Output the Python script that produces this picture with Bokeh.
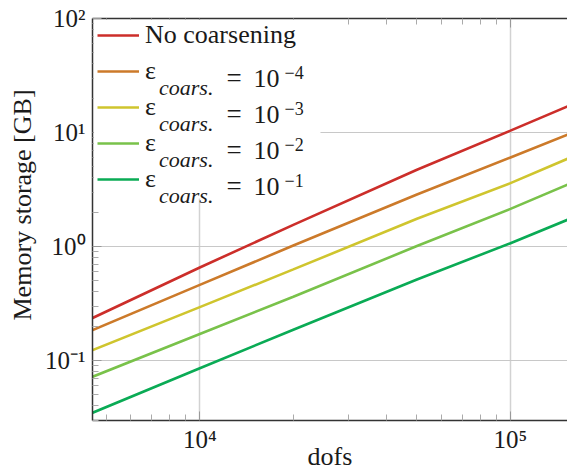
from bokeh.plotting import figure
from bokeh.models import (Range1d, LogAxis, FixedTicker, CustomJSTickFormatter, Legend, LegendItem,
                          Label, BoxAnnotation, Title, ColumnDataSource)
from bokeh.embed import file_html
from bokeh.resources import INLINE

# ---------------- data ----------------
dofs = [4500, 10000, 20000, 50000, 100000, 153000]
no_coarsening = [0.235, 0.655, 1.55, 4.71, 10.4, 17.0]
eps_1e_4 = [0.184, 0.461, 1.02, 2.86, 6.04, 9.6]
eps_1e_3 = [0.123, 0.294, 0.63, 1.75, 3.6, 5.9]
eps_1e_2 = [0.0718, 0.171, 0.363, 1.01, 2.14, 3.5]
eps_1e_1 = [0.0347, 0.0857, 0.186, 0.514, 1.07, 1.72]

x_major = [1e4, 1e5]
x_minor = [5000, 6000, 7000, 8000, 9000, 20000, 30000, 40000, 50000, 60000, 70000, 80000, 90000]
y_major = [0.1, 1, 10, 100]
y_minor = [0.03, 0.04, 0.05, 0.06, 0.07, 0.08, 0.09, 0.2, 0.3, 0.4, 0.5, 0.6, 0.7, 0.8, 0.9,
           2, 3, 4, 5, 6, 7, 8, 9, 20, 30, 40, 50, 60, 70, 80, 90]

series = [no_coarsening, eps_1e_4, eps_1e_3, eps_1e_2, eps_1e_1]
colors = ["#cc2e2a", "#cc7a2a", "#cfc52e", "#79c24a", "#0aab55"]
legend_first = "No coarsening"
eps_exponents = ["\u22124", "\u22123", "\u22122", "\u22121"]

FONT = "Liberation Serif"
TXT = "#1a1a1a"

p = figure(width=567, height=473, x_axis_type="log", y_axis_type="log",
           x_range=Range1d(4515, 152600), y_range=Range1d(0.0298, 100),
           output_backend="svg", toolbar_location=None,
           min_border_left=92, min_border_right=0, min_border_top=18, min_border_bottom=53)
p.outline_line_color = None
p.background_fill_color = "white"
p.border_fill_color = "white"

sup_fmt = CustomJSTickFormatter(code="""
const sup = {"-":"\u207b","0":"\u2070","1":"\u00b9","2":"\u00b2","3":"\u00b3","4":"\u2074",
             "5":"\u2075","6":"\u2076","7":"\u2077","8":"\u2078","9":"\u2079"};
const e = Math.round(Math.log10(tick));
return "10" + String(e).split("").map(c => sup[c]).join("");
""")

def style_axis(ax):
    ax.axis_line_color = "#333333"
    ax.axis_line_width = 1.5
    ax.major_tick_in = 9
    ax.major_tick_out = 0
    ax.minor_tick_in = 6
    ax.minor_tick_out = 0
    ax.major_tick_line_color = "#999999"
    ax.minor_tick_line_color = "#aaaaaa"
    ax.major_label_text_font = FONT
    ax.major_label_text_font_size = "25px"
    ax.major_label_text_color = TXT
    ax.axis_label_text_font = FONT
    ax.axis_label_text_font_size = "26px"
    ax.axis_label_text_font_style = "normal"
    ax.axis_label_text_color = TXT

xt = FixedTicker(ticks=x_major, minor_ticks=x_minor)
yt = FixedTicker(ticks=y_major, minor_ticks=y_minor)

for ax, t in ((p.xaxis[0], xt), (p.yaxis[0], yt)):
    style_axis(ax)
    ax.ticker = t
    ax.formatter = sup_fmt
    ax.major_label_standoff = 7

p.xaxis[0].major_label_standoff = 5
p.xaxis[0].axis_label = "dofs"
p.xaxis[0].axis_label_standoff = -14

top_axis = LogAxis(ticker=xt, formatter=CustomJSTickFormatter(code="return '';"))
style_axis(top_axis)
top_axis.major_label_text_font_size = "1px"
top_axis.major_label_standoff = 0
p.add_layout(top_axis, "above")

p.add_layout(Title(text="Memory storage [GB]", align="left", offset=100,
                   text_font=FONT, text_font_size="26px", text_font_style="normal",
                   text_color=TXT, standoff=11), "left")

p.xgrid[0].ticker = xt
p.ygrid[0].ticker = yt
p.xgrid.grid_line_color = "#d2d2d2"
p.xgrid.grid_line_width = 1.5
p.ygrid.grid_line_color = "#c8c8c8"
p.ygrid.grid_line_width = 1.2

src = ColumnDataSource(dict(dofs=dofs, s0=series[0], s1=series[1], s2=series[2], s3=series[3], s4=series[4]))
renderers = []
for i, c in enumerate(colors):
    r = p.line("dofs", f"s{i}", source=src, line_color=c, line_width=2.6)
    renderers.append(r)

# white legend box
p.add_layout(BoxAnnotation(left=4566, right=24460, top=97, bottom=2.64,
                           fill_color="white", fill_alpha=1.0, line_color=None))

items = [LegendItem(label=legend_first, renderers=[renderers[0]])]
for i in range(1, 5):
    items.append(LegendItem(label="\u03b5", renderers=[renderers[i]]))
legend = Legend(items=items, location=(5, 226), orientation="vertical", padding=0, spacing=6,
                glyph_height=30, glyph_width=42, label_standoff=6, label_height=30,
                label_text_font=FONT, label_text_font_size="26px", label_text_color=TXT,
                background_fill_alpha=0, border_line_color=None, margin=0)
p.add_layout(legend)

FL, FB = 92, 420  # frame left / bottom in canvas px
for i in range(1, 5):
    C = 34 + 36 * i
    B = C + 7.5
    parts = [("coars.", 158.5, B + 9, "22px", "italic"),
             ("=", 226, B, "27px", "normal"),
             ("10", 253, B, "26px", "normal"),
             (eps_exponents[i - 1], 284, B - 6, "18px", "normal")]
    for txt, X, Y, fs, st in parts:
        p.add_layout(Label(x=X - FL, y=FB - Y, x_units="screen", y_units="screen", text=txt,
                           text_font=FONT, text_font_size=fs, text_font_style=st,
                           text_color=TXT, text_baseline="alphabetic", text_align="left"))

open("out.html", "w").write(file_html(p, INLINE))
